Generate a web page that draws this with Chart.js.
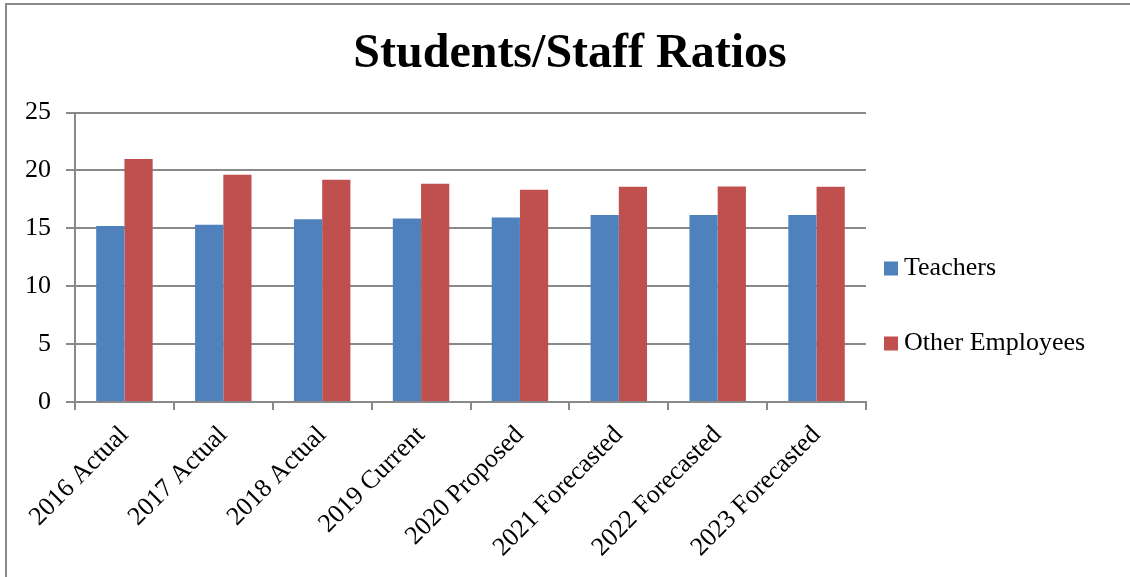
<!DOCTYPE html>
<html>
<head>
<meta charset="utf-8">
<script src="https://cdn.jsdelivr.net/npm/chart.js@4/dist/chart.umd.min.js"></script>
<style>
  html, body { margin: 0; padding: 0; background: #ffffff; }
  #wrap { width: 1130px; height: 577px; position: relative; }
</style>
</head>
<body>
<div id="wrap"><canvas id="c" width="1130" height="577"></canvas></div>
<script>
const categories = ["2016 Actual", "2017 Actual", "2018 Actual", "2019 Current", "2020 Proposed", "2021 Forecasted", "2022 Forecasted", "2023 Forecasted"];
const teachers = [15.2, 15.3, 15.78, 15.84, 15.93, 16.16, 16.16, 16.16];
const otherEmployees = [21.0, 19.63, 19.19, 18.85, 18.33, 18.59, 18.61, 18.59];
const seriesNames = ["Teachers", "Other Employees"];
const seriesColors = ["#4F81BD", "#C0504D"];
const yTicks = [0, 5, 10, 15, 20, 25];
const titleText = "Students/Staff Ratios";

const GRAY = "#898989";
const FONT = "'Liberation Serif', 'Times New Roman', serif";

const frame = {
  id: "frame",
  beforeDraw(chart) {
    const ctx = chart.ctx;
    ctx.save();
    ctx.fillStyle = "#ffffff";
    ctx.fillRect(0, 0, chart.width, chart.height);
    ctx.strokeStyle = GRAY;
    ctx.lineWidth = 2;
    ctx.strokeRect(6, 4, chart.width + 20, chart.height + 20);
    ctx.restore();
  }
};

const sideLegend = {
  id: "sideLegend",
  afterDraw(chart, args, opts) {
    const ctx = chart.ctx;
    const area = chart.chartArea;
    ctx.save();
    ctx.font = "26px " + FONT;
    ctx.textBaseline = "middle";
    ctx.textAlign = "left";
    chart.data.datasets.forEach((ds, i) => {
      const cy = opts.firstY + i * opts.gap;
      const bx = area.right + opts.offsetX;
      ctx.fillStyle = ds.backgroundColor;
      ctx.fillRect(bx, cy - 7, 14, 14);
      ctx.fillStyle = "#000000";
      ctx.fillText(ds.label, bx + 20, cy);
    });
    ctx.restore();
  }
};

new Chart(document.getElementById("c"), {
  type: "bar",
  data: {
    labels: categories,
    datasets: [
      { label: seriesNames[0], data: teachers, backgroundColor: seriesColors[0], borderWidth: 0 },
      { label: seriesNames[1], data: otherEmployees, backgroundColor: seriesColors[1], borderWidth: 0 }
    ]
  },
  plugins: [frame, sideLegend],
  options: {
    responsive: false,
    animation: false,
    layout: { padding: { left: 10, right: 0, top: 0, bottom: 4 } },
    datasets: { bar: { barPercentage: 1.0, categoryPercentage: 0.571 } },
    plugins: {
      legend: { display: false },
      tooltip: { enabled: false },
      sideLegend: { offsetX: 18, firstY: 268.5, gap: 75 },
      title: {
        display: true,
        text: titleText,
        color: "#000000",
        font: { family: FONT, size: 48, weight: "bold", lineHeight: 1.2 },
        padding: { top: 26, bottom: 29 }
      }
    },
    scales: {
      x: {
        border: { display: true, color: GRAY, width: 2 },
        grid: { display: true, offset: true, drawOnChartArea: false, drawTicks: true, tickLength: 8, color: GRAY, lineWidth: 2 },
        ticks: {
          color: "#000000",
          font: { family: FONT, size: 26 },
          minRotation: 45,
          maxRotation: 45,
          padding: 10,
          autoSkip: false
        }
      },
      y: {
        min: 0,
        max: 25,
        border: { display: true, color: GRAY, width: 2 },
        grid: { color: GRAY, lineWidth: 2, drawTicks: true, tickLength: 9 },
        afterBuildTicks(scale) { scale.ticks = yTicks.map(v => ({ value: v })); },
        ticks: {
          color: "#000000",
          font: { family: FONT, size: 26 },
          padding: 15
        }
      },
      legendSpace: {
        type: "linear",
        position: "right",
        display: true,
        grid: { display: false, drawTicks: false },
        border: { display: false },
        ticks: { display: false },
        afterFit(scale) { scale.width = 264; }
      }
    }
  }
});
</script>
</body>
</html>
